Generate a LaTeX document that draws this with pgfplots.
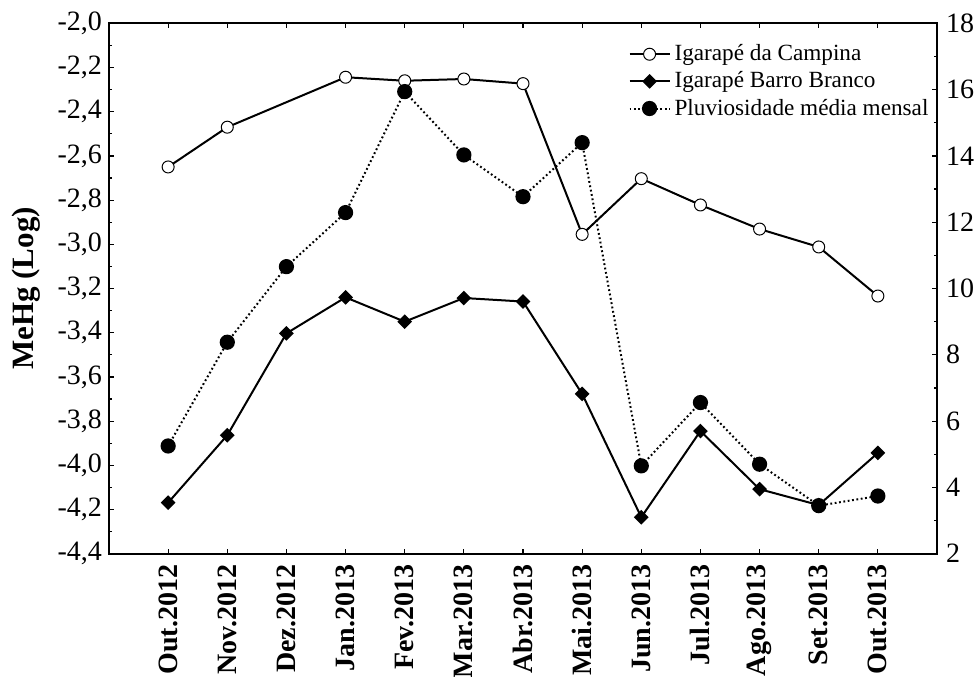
\documentclass[border=0pt]{standalone}
\usepackage{pgfplots}
\pgfplotsset{compat=1.18}
\usepackage{fontspec}
\setmainfont{Liberation Serif}

\begin{document}
\begin{tikzpicture}
\pgfplotsset{
  common/.style={
    width=414pt, height=265.2pt, scale only axis,
    at={(0,0)}, anchor=south west,
    xmin=-1, xmax=13,
    tick align=inside,
    major tick length=2.5pt, minor tick length=1.5pt,
    every tick/.style={black, line width=0.6pt},
    axis line style={line width=1pt},
    /pgf/number format/assume math mode=true,
    tick label style={font=\fontsize{14}{16}\selectfont},
  }
}
\begin{axis}[common,
  ymin=-4.4, ymax=-2.0,
  ytick={-4.4,-4.2,-4.0,-3.8,-3.6,-3.4,-3.2,-3.0,-2.8,-2.6,-2.4,-2.2,-2.0},
  minor y tick num=1,
  ytick pos=left, xtick pos=both,
  yticklabel style={/pgf/number format/.cd, fixed, fixed zerofill, precision=1, use comma},
  xtick={0,1,2,3,4,5,6,7,8,9,10,11,12},
  xticklabels={Out.2012,Nov.2012,Dez.2012,Jan.2013,Fev.2013,Mar.2013,Abr.2013,Mai.2013,Jun.2013,Jul.2013,Ago.2013,Set.2013,Out.2013},
  xticklabel style={rotate=90, anchor=east, font=\bfseries\fontsize{14}{16}\selectfont, xshift=-2pt},
  ylabel={MeHg (Log)},
  ylabel style={at={(axis description cs:-0.1,0.5)}, anchor=center, font=\bfseries\fontsize{15.5}{18}\selectfont},
  legend style={draw=none, fill=none, at={(axis description cs:0.627,0.968)}, anchor=north west,
    font=\fontsize{11.6}{14}\selectfont, inner sep=0pt, row sep=0pt, cells={anchor=west}},
  legend image code/.code={\draw[mark repeat=2,mark phase=2,#1] plot coordinates {(0pt,0pt) (10pt,0pt) (20pt,0pt)};},
]
\addplot[black, line width=1pt, mark=*, mark size=3pt, mark options={fill=white, draw=black, line width=0.5pt, solid}]
  coordinates {(0,-2.65) (1,-2.47) (3,-2.244) (4,-2.26) (5,-2.252) (6,-2.273) (7,-2.955) (8,-2.703) (9,-2.822) (10,-2.931) (11,-3.012) (12,-3.234)};
\addlegendentry{Igarapé da Campina}
\addplot[black, line width=1pt, mark=square*, mark size=2.1pt, mark options={rotate=45, fill=black, solid}]
  coordinates {(0,-4.169) (1,-3.864) (2,-3.403) (3,-3.240) (4,-3.350) (5,-3.243) (6,-3.259) (7,-3.677) (8,-4.235) (9,-3.845) (10,-4.108) (11,-4.180) (12,-3.944)};
\addlegendentry{Igarapé Barro Branco}
\addlegendimage{black, line width=1pt, dash pattern=on 0.9pt off 1.3pt, mark=*, mark size=3.3pt, mark options={fill=black, solid}}
\addlegendentry{Pluviosidade média mensal}
\end{axis}
\begin{axis}[common,
  ymin=2, ymax=18,
  ytick={2,4,6,8,10,12,14,16,18},
  minor y tick num=1,
  axis y line*=right, axis x line=none,
  ytick pos=right,
  tick align=inside,
  yticklabel style={xshift=1pt},
]
\addplot[black, line width=1pt, dash pattern=on 0.9pt off 1.3pt, mark=*, mark size=3.3pt, mark options={fill=black, solid}]
  coordinates {(0,5.25) (1,8.38) (2,10.66) (3,12.29) (4,15.94) (5,14.03) (6,12.77) (7,14.40) (8,4.65) (9,6.56) (10,4.70) (11,3.45) (12,3.74)};
\end{axis}
\pgfresetboundingbox
\path[use as bounding box] (-54.5pt,-61.15pt) rectangle (434pt,276.85pt);
\end{tikzpicture}
\end{document}
